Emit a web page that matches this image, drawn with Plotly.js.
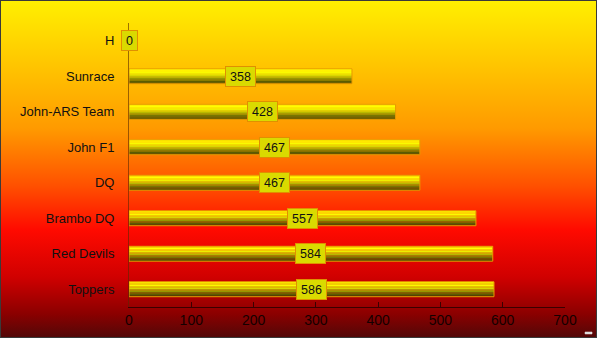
<!DOCTYPE html>
<html>
<head>
<meta charset="utf-8">
<script src="https://cdn.plot.ly/plotly-3.0.1.min.js"></script>
<style>
  html, body { margin: 0; padding: 0; }
  #wrap { position: relative; width: 597px; height: 338px;
    background: linear-gradient(to bottom, #fff000 0%, #ffc800 18%, #ff9a00 38%, #ff5000 55%, #ff0a00 68%, #d00000 82%, #8a0000 93%, #500808 100%); }
  #chart { position: absolute; left: 0; top: 0; width: 597px; height: 338px; }
  #frame { position: absolute; left: 0; top: 0; width: 597px; height: 338px; box-sizing: border-box;
    border: 1px solid #3a3a3a; pointer-events: none; }
</style>
</head>
<body>
<div id="wrap"><div id="chart"></div><div id="frame"></div></div>
<script>
// Data (top to bottom as shown)
const teams  = ['H', 'Sunrace', 'John-ARS Team', 'John F1', 'DQ', 'Brambo DQ', 'Red Devils', 'Toppers'];
const points = [0, 358, 428, 467, 467, 557, 584, 586];
const xTicks = [0, 100, 200, 300, 400, 500, 600, 700];

// Bar drawn as horizontal colour strips to imitate a vertical gradient
const stripColors = ['#ffff00', '#ffff00', '#fafa00', '#eeee00', '#d8d800', '#b8b800', '#969600', '#767600', '#5a5c00', '#464a00'];
const barWidth = 0.42;
const stripW = barWidth / stripColors.length;

const traces = stripColors.map((c, i) => ({
  type: 'bar', orientation: 'h',
  x: points, y: teams,
  width: stripW, offset: -barWidth / 2 + i * stripW,
  marker: { color: c, line: { width: 0 } },
  hoverinfo: 'skip', showlegend: false
}));
// outline
traces.push({
  type: 'bar', orientation: 'h', x: points, y: teams,
  width: barWidth, offset: -barWidth / 2,
  marker: { color: 'rgba(0,0,0,0)', line: { color: '#e89a00', width: 1 } },
  hoverinfo: 'skip', showlegend: false
});

const annotations = teams.map((t, i) => ({
  x: points[i] / 2, y: t, xref: 'x', yref: 'y',
  text: String(points[i]), showarrow: false,
  font: { family: 'Liberation Sans, Arial, sans-serif', size: 12.5, color: '#111' },
  bgcolor: '#dada00', bordercolor: '#e09000', borderwidth: 1, borderpad: 4,
  height: 11
}));

const layout = {
  width: 597, height: 338,
  margin: { l: 129, r: 32, t: 23, b: 31 },
  paper_bgcolor: 'rgba(0,0,0,0)', plot_bgcolor: 'rgba(0,0,0,0)',
  barmode: 'overlay',
  font: { family: 'Liberation Sans, Arial, sans-serif', size: 13, color: '#111' },
  xaxis: {
    range: [0, 700], tickvals: xTicks, ticktext: xTicks.map(String),
    ticks: 'inside', ticklen: 5, tickcolor: '#3a0000', tickwidth: 1,
    showline: true, linecolor: '#3a0000', linewidth: 1,
    showgrid: false, zeroline: false,
    tickfont: { size: 14, color: '#140000' }, fixedrange: true
  },
  yaxis: {
    type: 'category', categoryorder: 'array', categoryarray: teams,
    range: [7.5, -0.5],
    ticks: '', ticklabelstandoff: 11,
    showline: true, linecolor: 'rgba(90,40,0,0.6)', linewidth: 1,
    showgrid: false, zeroline: false,
    tickfont: { size: 13, color: '#111' }, fixedrange: true
  },
  annotations: annotations,
  shapes: [{
    type: 'rect', xref: 'paper', yref: 'paper',
    x0: 1.046, x1: 1.062, y0: -0.095, y1: -0.088,
    fillcolor: '#d8d8d8', line: { color: '#f0f0f0', width: 0.5 }
  }]
};

Plotly.newPlot('chart', traces, layout, { displayModeBar: false, staticPlot: true });
</script>
</body>
</html>
